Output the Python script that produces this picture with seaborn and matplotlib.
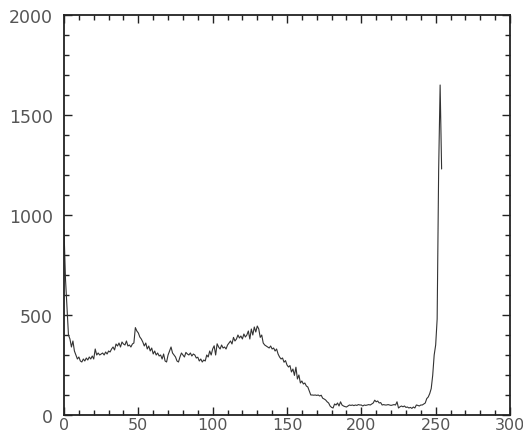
import matplotlib
matplotlib.use("Agg")
import matplotlib.pyplot as plt
from matplotlib.ticker import MultipleLocator
import pandas as pd
import seaborn as sns

# intensity histogram, values (bins 0..254)
counts = [
    925, 680, 545, 400, 380, 340, 370, 320, 300, 280,
    290, 270, 265, 280, 270, 285, 275, 290, 280, 295,
    280, 330, 300, 310, 300, 305, 310, 300, 315, 305,
    320, 315, 330, 340, 325, 355, 345, 360, 340, 365,
    355, 350, 370, 345, 350, 340, 355, 360, 437, 420,
    410, 390, 380, 365, 345, 360, 330, 345, 320, 335,
    305, 320, 300, 310, 295, 300, 280, 305, 270, 265,
    300, 320, 340, 310, 300, 290, 270, 265, 290, 310,
    300, 290, 313, 305, 300, 310, 295, 305, 300, 285,
    289, 270, 280, 265, 275, 270, 300, 290, 320, 300,
    330, 346, 300, 356, 340, 330, 350, 335, 340, 330,
    350, 360, 370, 355, 388, 370, 380, 400, 385, 395,
    380, 405, 390, 400, 420, 380, 430, 400, 440, 415,
    445, 430, 388, 400, 360, 350, 345, 340, 335, 345,
    330, 335, 320, 330, 305, 290, 280, 285, 264, 272,
    250, 240, 247, 215, 230, 198, 239, 180, 200, 160,
    170, 155, 160, 145, 140, 120, 100, 100, 99, 100,
    98, 100, 95, 99, 84, 80, 75, 66, 60, 45,
    38, 35, 55, 50, 60, 45, 66, 50, 45, 42,
    40, 45, 50, 48, 50, 47, 50, 48, 52, 50,
    50, 45, 50, 48, 50, 52, 50, 55, 60, 74,
    66, 70, 60, 62, 50, 52, 50, 50, 52, 50,
    48, 50, 52, 50, 66, 35, 41, 45, 41, 45,
    38, 40, 35, 38, 33, 40, 35, 50, 48, 45,
    50, 50, 55, 60, 82, 90, 107, 132, 198, 300,
    350, 480, 1223, 1650, 1230,
]
bins = list(range(len(counts)))

x_ticks = [0, 50, 100, 150, 200, 250, 300]
y_ticks = [0, 500, 1000, 1500, 2000]

df = pd.DataFrame({"bin": bins, "count": counts})

sns.set_style("white")
plt.rcParams["font.family"] = ["DejaVu Sans"]

fig = plt.figure(figsize=(5.23, 4.39), dpi=100)
ax = fig.add_axes([64 / 523, 23 / 439, 446 / 523, 400 / 439])

sns.lineplot(data=df, x="bin", y="count", color="#333333", linewidth=0.8, ax=ax)

ax.set_xlim(0, 300)
ax.set_ylim(0, 2000)
ax.set_xticks(x_ticks)
ax.set_yticks(y_ticks)
ax.xaxis.set_minor_locator(MultipleLocator(10))
ax.yaxis.set_minor_locator(MultipleLocator(100))
ax.set_xlabel("")
ax.set_ylabel("")

for side in ["left", "right", "top", "bottom"]:
    ax.spines[side].set_visible(True)
    ax.spines[side].set_color("#222222")
    ax.spines[side].set_linewidth(1.3)

ax.tick_params(which="both", direction="in", top=True, right=True,
               bottom=True, left=True, color="#222222", width=1.0)
ax.tick_params(which="major", length=6)
ax.tick_params(which="minor", length=3.3)
ax.tick_params(axis="x", which="major", labelsize=11.5, labelcolor="#555555", pad=1.5)
ax.tick_params(axis="y", which="major", labelsize=12.5, labelcolor="#555555", pad=8)

fig.savefig("out.png", dpi=100)
